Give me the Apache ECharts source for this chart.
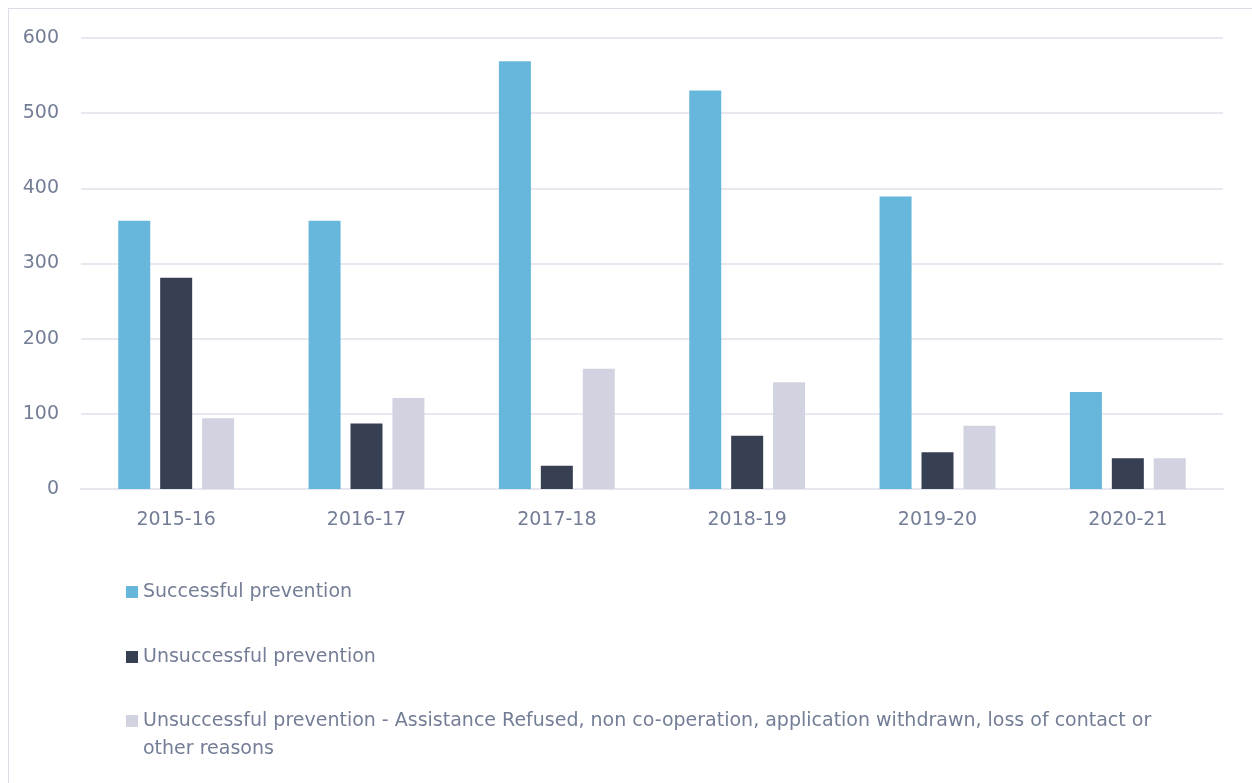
<!DOCTYPE html>
<html>
<head>
    <meta charset="utf-8">
    <title>Prevention outcomes</title>
    <script src="https://cdn.jsdelivr.net/npm/echarts@6/dist/echarts.min.js"></script>
    <style>
        html, body { margin: 0; padding: 0; background: #fff; overflow: hidden; }
        #main {
            position: absolute;
            left: 8px;
            top: 8px;
            width: 1260px;
            height: 900px;
            border: 1px solid #dcdde6;
            box-sizing: border-box;
        }
    </style>
</head>
<body>
    <div id="main"></div>
<script type="text/javascript">
    var years = ['2015-16', '2016-17', '2017-18', '2018-19', '2019-20', '2020-21'];
    var seriesNames = [
        'Successful prevention',
        'Unsuccessful prevention',
        'Unsuccessful prevention - Assistance Refused, non co-operation, application withdrawn, loss of contact or other reasons'
    ];
    var successful = [357, 357, 569, 530, 389, 129];
    var unsuccessful = [281, 87, 31, 71, 49, 41];
    var refused = [94, 121, 160, 142, 84, 41];
    var colors = ['#67b7dc', '#373f52', '#d1d4e0'];

    var chart = echarts.init(document.getElementById('main'));
    var labelColor = '#737d96';
    var font = 'DejaVu Sans';
    var legendText = {
        color: labelColor,
        fontSize: 19,
        fontFamily: font,
        width: 1040,
        overflow: 'break',
        lineHeight: 28
    };

    chart.setOption({
        animation: false,
        color: colors,
        grid: {
            left: 72,
            top: 29,
            width: 1142,
            height: 451
        },
        xAxis: {
            type: 'category',
            data: years,
            axisTick: { show: false },
            axisLine: { lineStyle: { color: '#e6e6ee', width: 2 } },
            axisLabel: { color: labelColor, fontSize: 19, fontFamily: font, margin: 22 }
        },
        yAxis: {
            type: 'value',
            min: 0,
            max: 600,
            interval: 100,
            axisLabel: { color: labelColor, fontSize: 19, fontFamily: font, margin: 22 },
            splitLine: { lineStyle: { color: '#e8e8f0', width: 2 } },
            axisLine: { show: false },
            axisTick: { show: false }
        },
        legend: [{
            orient: 'vertical',
            left: 112,
            top: 564,
            itemWidth: 12,
            itemHeight: 12,
            itemGap: 37,
            icon: 'rect',
            textStyle: legendText,
            data: [seriesNames[0], seriesNames[1]]
        }, {
            // taller icon box so the square sits on the first of two lines
            orient: 'vertical',
            left: 112,
            top: 693,
            itemWidth: 12,
            itemHeight: 40,
            icon: 'path://M0,0L12,0L12,12L0,12Z M0,39.99L0.01,39.99L0.01,40L0,40Z',
            textStyle: legendText,
            data: [seriesNames[2]]
        }],
        series: [{
            name: seriesNames[0],
            type: 'bar',
            barWidth: 32,
            barGap: '31%',
            data: successful
        }, {
            name: seriesNames[1],
            type: 'bar',
            barWidth: 32,
            data: unsuccessful
        }, {
            name: seriesNames[2],
            type: 'bar',
            barWidth: 32,
            data: refused
        }]
    });
</script>
</body>
</html>
